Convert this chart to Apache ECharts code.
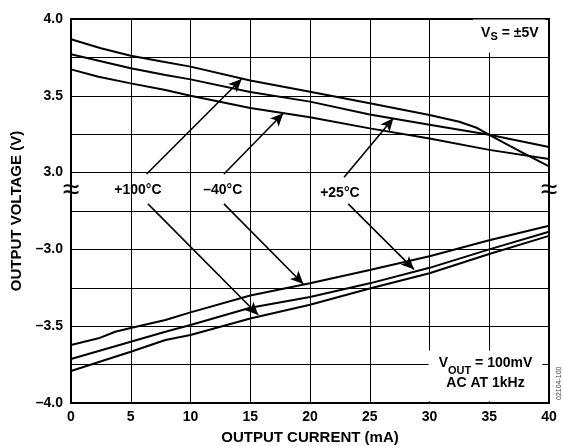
<!DOCTYPE html>
<html><head><meta charset="utf-8">
<script src="https://cdn.jsdelivr.net/npm/echarts@6/dist/echarts.min.js"></script>
<style>html,body{margin:0;padding:0;background:#fff}#c{width:563px;height:446px}</style>
</head><body><div id="c"></div>
<script>
// Output current (mA) and output voltage (V)
const topCurrents100 = [0, 2.5, 5, 7.5, 10, 15, 20, 25, 30, 32.5, 34, 35, 37.5, 40];
const topVolts100    = [3.868, 3.81, 3.761, 3.725, 3.69, 3.60, 3.527, 3.451, 3.375, 3.331, 3.29, 3.245, 3.142, 3.04];
const topCurrents25  = [0, 5, 7.9, 10, 15, 20, 25, 30, 35, 40];
const topVolts25     = [3.77, 3.679, 3.635, 3.607, 3.525, 3.462, 3.378, 3.312, 3.247, 3.167];
const topCurrentsM40 = [0, 2.3, 5, 7.9, 10, 15, 20, 25, 30, 35, 40];
const topVoltsM40    = [3.672, 3.624, 3.581, 3.538, 3.50, 3.42, 3.36, 3.288, 3.222, 3.148, 3.089];

const botCurrentsM40 = [0, 2.3, 3.7, 5, 7.9, 10, 15, 20, 25, 30, 35, 40];
const botVoltsM40    = [-3.622, -3.579, -3.536, -3.512, -3.46, -3.41, -3.30, -3.221, -3.134, -3.045, -2.94, -2.846];
const botCurrents25  = [0, 5, 7.9, 10, 15, 20, 25, 30, 35, 40];
const botVolts25     = [-3.714, -3.601, -3.536, -3.492, -3.38, -3.31, -3.221, -3.12, -3.0, -2.885];
const botCurrents100 = [0, 5, 7.9, 10, 15, 20, 25, 30, 35, 40];
const botVolts100    = [-3.792, -3.666, -3.59, -3.557, -3.45, -3.36, -3.255, -3.155, -3.03, -2.912];

const xTicks = [0, 5, 10, 15, 20, 25, 30, 35, 40];
const yTickLabels = ['–4.0', '–3.5', '–3.0', '3.0', '3.5', '4.0'];

// Broken axis: the positive section (3.0..4.0) is shifted down so that it sits
// one grid division (0.25 V) above the negative section (-4.0..-3.0).
const BREAK_SHIFT = 5.5;
const toAxis = v => (v >= 0 ? v - BREAK_SHIFT : v);

// Annotation labels and arrows (current mA, real voltage)
const tempLabels = [
  { text: '+100°C', at: [5.6, 2.887] },
  { text: '–40°C', at: [12.7, 2.887] },
  { text: '+25°C', at: [22.5, 2.867] }
];
const arrows = [
  [[6.33, 2.991], [14.28, 3.609]],
  [[6.44, -2.704], [15.67, -3.427]],
  [[12.8, 2.991], [17.77, 3.386]],
  [[12.8, -2.704], [19.44, -3.225]],
  [[22.85, 2.969], [26.97, 3.354]],
  [[23.2, -2.704], [28.7, -3.13]]
];
const breakMarkAt = 2.88;

const FONT = 'Liberation Sans, Arial, Helvetica, sans-serif';
const pair = (xs, vs) => xs.map((x, i) => [x, toAxis(vs[i])]);
const lineSeries = (xs, vs) => ({
  type: 'line', data: pair(xs, vs), symbol: 'none', silent: true,
  lineStyle: { color: '#000', width: 2 }, animation: false
});

const chart = echarts.init(document.getElementById('c'));
chart.setOption({
  animation: false,
  backgroundColor: '#fff',
  grid: { left: 71, right: 14, top: 19, bottom: 43, outerBoundsMode: 'none', containLabel: false,
          show: true, borderColor: '#000', borderWidth: 2, backgroundColor: 'transparent', z: 5 },
  xAxis: {
    type: 'value', min: 0, max: 40, interval: 5,
    axisLine: { show: false }, axisTick: { show: false },
    splitLine: { show: true, lineStyle: { color: '#000', width: 1 } },
    axisLabel: { fontFamily: FONT, fontWeight: 'bold', fontSize: 14, color: '#000', margin: 7,
      formatter: v => (xTicks.indexOf(v) >= 0 ? String(v) : '') },
    name: 'OUTPUT CURRENT (mA)', nameLocation: 'middle', nameGap: 27,
    nameTextStyle: { fontFamily: FONT, fontWeight: 'bold', fontSize: 15, color: '#000' }
  },
  yAxis: {
    type: 'value', min: -4, max: -1.5, interval: 0.25,
    axisLine: { show: false }, axisTick: { show: false },
    splitLine: { show: true, lineStyle: { color: '#000', width: 1 } },
    axisLabel: { fontFamily: FONT, fontWeight: 'bold', fontSize: 14, color: '#000', margin: 8,
      formatter: u => {
        if (Math.abs(u * 2 - Math.round(u * 2)) > 1e-6) return '';
        return yTickLabels[Math.round((u + 4) * 2)] || '';
      } },
    name: 'OUTPUT VOLTAGE (V)', nameLocation: 'middle', nameGap: 44,
    nameTextStyle: { fontFamily: FONT, fontWeight: 'bold', fontSize: 15, color: '#000' }
  },
  series: [
    lineSeries(topCurrents100, topVolts100),
    lineSeries(topCurrents25, topVolts25),
    lineSeries(topCurrentsM40, topVoltsM40),
    lineSeries(botCurrentsM40, botVoltsM40),
    lineSeries(botCurrents25, botVolts25),
    lineSeries(botCurrents100, botVolts100),
    {
      type: 'line', data: [], silent: true, z: 6,
      markLine: {
        silent: true, animation: false, symbol: ['none', 'arrow'], symbolSize: [9, 13],
        lineStyle: { color: '#000', width: 1.6, type: 'solid' }, label: { show: false },
        data: arrows.map(a => [
          { coord: [a[0][0], toAxis(a[0][1])] },
          { coord: [a[1][0], toAxis(a[1][1])] }
        ])
      },
      markPoint: {
        silent: true, animation: false, symbol: 'rect', symbolSize: 1,
        itemStyle: { color: 'rgba(0,0,0,0)' },
        data: [
          ...tempLabels.map(t => ({
            coord: [t.at[0], toAxis(t.at[1])],
            label: { show: true, formatter: t.text, position: 'inside', fontFamily: FONT, fontWeight: 'bold', fontSize: 14, color: '#000' }
          })),
          { coord: [0, toAxis(breakMarkAt)], label: { show: true, formatter: '≈', position: 'inside', fontFamily: FONT, fontSize: 30, color: '#000' } },
          { coord: [40, toAxis(breakMarkAt)], label: { show: true, formatter: '≈', position: 'inside', fontFamily: FONT, fontSize: 30, color: '#000' } },
          { coord: [40, -1.5], label: { show: true, position: [-3, 1], align: 'right', verticalAlign: 'top',
              backgroundColor: '#fff', padding: [7, 7, 10, 8],
              formatter: '{a|V}{s|S}{a| = ±5V}',
              rich: {
                a: { fontFamily: FONT, fontWeight: 'bold', fontSize: 14, color: '#000', lineHeight: 16, verticalAlign: 'top' },
                s: { fontFamily: FONT, fontWeight: 'bold', fontSize: 11, color: '#000', lineHeight: 16, padding: [6, 0, 0, 0], verticalAlign: 'bottom' }
              } } },
          { coord: [40, -4], label: { show: true, position: [-63, -1], align: 'center', verticalAlign: 'bottom',
              backgroundColor: '#fff', padding: [6, 10, 5, 10],
              formatter: '{a|V}{s|OUT}{a| = 100mV}\n{a|AC AT 1kHz}',
              rich: {
                a: { fontFamily: FONT, fontWeight: 'bold', fontSize: 14, color: '#000', lineHeight: 20, verticalAlign: 'top' },
                s: { fontFamily: FONT, fontWeight: 'bold', fontSize: 11, color: '#000', lineHeight: 16, padding: [6, 0, 0, 0], verticalAlign: 'bottom' }
              } } }
        ]
      }
    }
  ],
  graphic: [
    { type: 'text', right: 0, bottom: 46, rotation: Math.PI / 2, z: 10,
      style: { text: '02104-100', fontFamily: FONT, fontSize: 7, fill: '#444' } }
  ]
});
</script></body></html>
